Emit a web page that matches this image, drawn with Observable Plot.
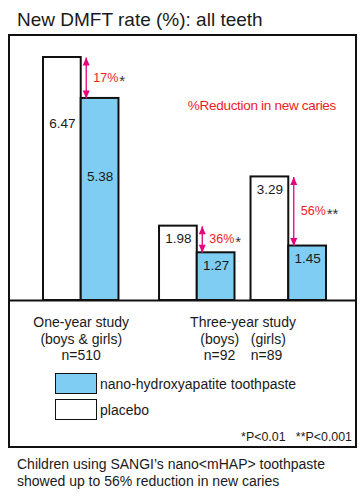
<!DOCTYPE html>
<html><head><meta charset="utf-8">
<script src="https://cdn.jsdelivr.net/npm/d3@7"></script>
<script src="https://cdn.jsdelivr.net/npm/@observablehq/plot@0.6"></script>
<style>
html,body{margin:0;padding:0;background:#fff;}
#page{position:relative;width:362px;height:500px;overflow:hidden;font-family:"Liberation Sans",Arial,sans-serif;color:#1a1a1a;}
#title{position:absolute;left:17px;top:10px;font-size:19px;line-height:19px;white-space:nowrap;}
#box{position:absolute;left:8px;top:34px;width:349px;height:414px;border:2px solid #111;box-sizing:border-box;}
#chart{position:absolute;left:0;top:0;}
.legend-row{position:absolute;left:55px;display:flex;align-items:center;height:21px;font-size:14px;line-height:20px;white-space:nowrap;}
.swatch{width:42px;height:21px;box-sizing:border-box;border:1.6px solid #111;margin-right:3px;}
#note{position:absolute;right:10px;top:430px;font-size:12.4px;line-height:14px;white-space:pre;}
#caption{position:absolute;left:17px;top:456px;font-size:14px;line-height:17px;white-space:nowrap;}
#reduction{position:absolute;right:26px;top:97px;font-size:13.5px;line-height:18px;letter-spacing:-0.3px;white-space:nowrap;}
g[aria-label="bar values"] text{letter-spacing:-0.8px;}
g[aria-label="reduction"] text{letter-spacing:-0.5px;}
</style></head>
<body>
<div id="page">
  <div id="title"></div>
  <div id="box"></div>
  <div id="reduction"></div>
  <div id="legend"></div>
  <div id="note"></div>
  <div id="caption"></div>
</div>
<script>
// ---- data ----
const chartTitle = "New DMFT rate (%): all teeth";
const studyGroups = ["One-year study", "Three-year study (boys)", "Three-year study (girls)"];
const placeboRates = [6.47, 1.98, 3.29];
const nhapRates = [5.38, 1.27, 1.45];
const reductionPct = ["17%", "36%", "56%"];
const significance = ["*", "*", "**"];
const seriesNames = ["nano-hydroxyapatite toothpaste", "placebo"];
const axisLabels = [
  "One-year study\n(boys & girls)\nn=510",
  "Three-year study\n(boys)\u00a0\u00a0\u00a0(girls)\nn=92\u00a0\u00a0\u00a0\u00a0n=89"
];
const annotationText = "%Reduction in new caries";
const pNote = "*P<0.01   **P<0.001";
const captionLines = ["Children using SANGI\u2019s nano<mHAP> toothpaste", "showed up to 56% reduction in new caries"];

// ---- styles / layout ----
const seriesColors = ["#7fcdf3", "#ffffff"];
const redText = "#ec1c24";
const arrowColor = "#e6007e";
const ink = "#1a1a1a";
const BAR_W = 2;
const GAPS = [0, 2.15, 0.85];

let cur = 0;
const bars = [];
const pairs = [];
studyGroups.forEach((g, i) => {
  cur += GAPS[i];
  bars.push({group: g, idx: i, series: seriesNames[1], x1: cur, x2: cur + BAR_W, value: placeboRates[i]});
  bars.push({group: g, idx: i, series: seriesNames[0], x1: cur + BAR_W, x2: cur + 2 * BAR_W, value: nhapRates[i]});
  pairs.push({group: g, x: cur + BAR_W, top: placeboRates[i], bottom: nhapRates[i],
              mid: (placeboRates[i] + nhapRates[i]) / 2, pct: reductionPct[i], sig: significance[i]});
  cur += 2 * BAR_W;
});
const xMax = cur;
const tickPositions = [pairs[0].x, (pairs[1].x + pairs[2].x) / 2];
const tickLabelMap = new Map(tickPositions.map((t, i) => [t, axisLabels[i]]));
const mid = d => (d.x1 + d.x2) / 2;
const isTall = d => d.value > 4;
const fmt = d => d.value.toFixed(2);

const arrowUp = {draw(ctx) { ctx.moveTo(0, 0); ctx.lineTo(3.5, 8); ctx.lineTo(-3.5, 8); ctx.closePath(); }};
const arrowDown = {draw(ctx) { ctx.moveTo(0, 0); ctx.lineTo(3.5, -8); ctx.lineTo(-3.5, -8); ctx.closePath(); }};

const valueText = {x: mid, y: "value", text: fmt, fontSize: 13.5, fill: ink, ariaLabel: "bar values"};

const chart = Plot.plot({
  width: 362,
  height: 370,
  marginTop: 34,
  marginBottom: 70,
  marginLeft: 8,
  marginRight: 5,
  style: {background: "transparent", overflow: "visible", fontFamily: "Liberation Sans, Arial, sans-serif", color: ink},
  x: {type: "linear", domain: [0, xMax], range: [43, 326], label: null},
  y: {domain: [0, 7], range: [300, 37.1], axis: null},
  color: {domain: seriesNames, range: seriesColors},
  marks: [
    Plot.rect(bars, {x1: "x1", x2: "x2", y1: 0, y2: "value", fill: "series", stroke: "#111", strokeWidth: 2}),
    Plot.ruleY([0], {stroke: "#111", strokeWidth: 2}),
    Plot.text(bars.filter(d => isTall(d) && d.series === seriesNames[1]), {...valueText, dy: 66}),
    Plot.text(bars.filter(d => isTall(d) && d.series === seriesNames[0]), {...valueText, dy: 78}),
    Plot.text(bars.filter(d => !isTall(d)), {...valueText, dy: 13}),
    Plot.link(pairs, {x1: "x", x2: "x", y1: "top", y2: "bottom", dx: 5, stroke: arrowColor, strokeWidth: 1.3}),
    Plot.dot(pairs, {x: "x", y: "top", dx: 5, symbol: arrowUp, fill: arrowColor, stroke: "none", r: 4}),
    Plot.dot(pairs, {x: "x", y: "bottom", dx: 5, symbol: arrowDown, fill: arrowColor, stroke: "none", r: 4}),
    Plot.text(pairs, {x: "x", y: "mid", text: "pct", dx: 12, textAnchor: "start", fontSize: 12.5, fill: redText, ariaLabel: "reduction"}),
    Plot.text(pairs, {x: "x", y: "mid", text: "sig", dx: 38, dy: 3, textAnchor: "start", fontSize: 15, fill: "#333"}),
    Plot.axisX({ticks: tickPositions, tickFormat: d => tickLabelMap.get(d), tickSize: 0, tickPadding: 15, fontSize: 14, lineHeight: 1.18, label: null, fill: ink})
  ]
});
chart.id = "chart";
document.getElementById("page").appendChild(chart);

document.getElementById("title").textContent = chartTitle;
const red = document.getElementById("reduction");
red.textContent = annotationText;
red.style.color = redText;
document.getElementById("note").textContent = pNote;
document.getElementById("caption").innerHTML = captionLines.map(s => s.replace(/&/g,"&amp;").replace(/</g,"&lt;").replace(/>/g,"&gt;")).join("<br>");

const legend = document.getElementById("legend");
const legendTops = [373, 399];
seriesNames.forEach((name, i) => {
  const row = document.createElement("div");
  row.className = "legend-row";
  row.style.top = legendTops[i] + "px";
  const sw = document.createElement("div");
  sw.className = "swatch";
  sw.style.background = seriesColors[i];
  const label = document.createElement("span");
  label.textContent = name;
  row.appendChild(sw);
  row.appendChild(label);
  legend.appendChild(row);
});
</script>
</body></html>
